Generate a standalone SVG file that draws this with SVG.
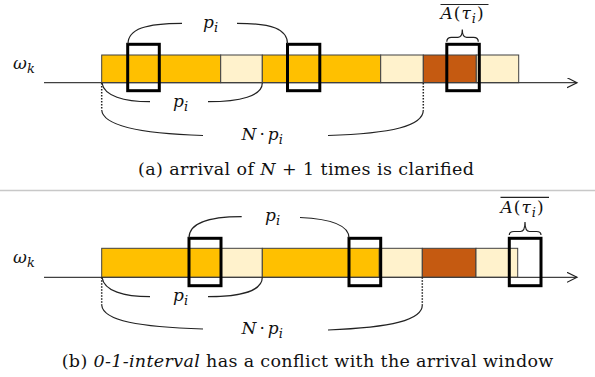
<svg xmlns="http://www.w3.org/2000/svg" width="595" height="377" viewBox="0 0 595 377">
<defs>
<style>
.seg{stroke:#404040;stroke-width:1}
.o{fill:#FFC000}.l{fill:#FFF2CC}.b{fill:#C55A11}
.box{fill:none;stroke:#000;stroke-width:3}
.arc{fill:none;stroke:#222;stroke-width:1.2}
.dot{fill:none;stroke:#222;stroke-width:1.5;stroke-dasharray:1.5 1.5}
.axis{stroke:#404040;stroke-width:1.2;fill:none}
.m{font-family:'DejaVu Serif','Liberation Serif',serif;font-style:italic;font-size:17px;fill:#111}
.u{font-style:normal}
.cap{font-family:'DejaVu Serif','Liberation Serif',serif;font-size:17.5px;fill:#111}
</style>
<marker id="arr" markerWidth="12" markerHeight="12" refX="10" refY="5" orient="auto" markerUnits="userSpaceOnUse"><path d="M0,0 L10,5 L0,10" fill="none" stroke="#222" stroke-width="1.2"/></marker>
</defs>
<rect width="595" height="377" fill="#fff"/>

<g id="panel-a">
<g id="bar-a">
<rect class="seg o" x="101.7" y="55" width="119" height="27.7"/>
<rect class="seg l" x="220.7" y="55" width="41.6" height="27.7"/>
<rect class="seg o" x="262.3" y="55" width="118.4" height="27.7"/>
<rect class="seg l" x="380.7" y="55" width="42.6" height="27.7"/>
<rect class="seg b" x="423.3" y="55" width="53" height="27.7"/>
<rect class="seg l" x="476.3" y="55" width="42.4" height="27.7"/>
</g>
<line id="axis-a" class="axis" x1="44" y1="82.7" x2="577" y2="82.7" marker-end="url(#arr)"/>
<text id="omega-a" class="m" x="13" y="69" font-size="18">ω<tspan font-size="13" dy="4">k</tspan></text>
<g id="boxes-a">
<rect class="box" x="127.7" y="44.3" width="31.6" height="46.4"/>
<rect class="box" x="287.5" y="44.3" width="32.3" height="46.4"/>
<rect class="box" x="446.8" y="44.3" width="32.5" height="46.4"/>
</g>
<g id="conn-a">
<path class="arc" d="M128,44 C128,29 146,23.3 182,23.3"/>
<path class="arc" d="M237,23.3 C272,23.3 287.5,29 287.5,44"/>
<path class="arc" d="M102,83 C104,96 124,101.7 150,101.7"/>
<path class="arc" d="M208,101.7 C240,101.7 262.3,96 262.3,83"/>
<path class="dot" d="M101.7,83 L101.7,110"/>
<path class="arc" d="M101.7,110 C103,126 140,133.5 203,135.5"/>
<path class="arc" d="M328,135.5 C392,133.5 423.3,126 423.3,110"/>
<path class="dot" d="M423.3,83 L423.3,110"/>
<path class="arc" d="M446.8,41.7 Q446.8,37.3 451.5,37.3 L458,37.3 Q462.3,37.3 462.3,29.5 Q462.3,37.3 466.6,37.3 L473.5,37.3 Q478.3,37.3 478.3,41.7"/>
</g>
<text class="m" x="203" y="28" font-size="18">p<tspan font-size="13" dy="4">i</tspan></text>
<text class="m" x="173" y="107" font-size="18">p<tspan font-size="13" dy="4">i</tspan></text>
<text class="m" x="241.5" y="140" font-size="18">N<tspan class="u" dx="3">·</tspan><tspan dx="3">p</tspan><tspan font-size="13" dy="4">i</tspan></text>
<line class="arc" x1="440.5" y1="4.5" x2="488.5" y2="4.5"/>
<text class="m" x="440.5" y="19" font-size="18" letter-spacing="1">A<tspan class="u">(</tspan>τ<tspan font-size="13" dy="4">i</tspan><tspan class="u" dy="-4">)</tspan></text>
<text class="cap" x="138" y="175" textLength="336" lengthAdjust="spacing">(a) arrival of <tspan font-style="italic">N</tspan> + 1 times is clarified</text>
</g>

<line id="separator" x1="0" y1="190.5" x2="595" y2="190.5" stroke="#c8c8c8" stroke-width="1.5"/>

<g id="panel-b">
<g id="bar-b">
<rect class="seg o" x="101.7" y="248.3" width="119" height="29"/>
<rect class="seg l" x="220.7" y="248.3" width="41.6" height="29"/>
<rect class="seg o" x="262.3" y="248.3" width="117" height="29"/>
<rect class="seg l" x="379.3" y="248.3" width="43" height="29"/>
<rect class="seg b" x="422.3" y="248.3" width="53.7" height="29"/>
<rect class="seg l" x="476" y="248.3" width="41.7" height="29"/>
</g>
<line id="axis-b" class="axis" x1="44" y1="277.3" x2="577" y2="277.3" marker-end="url(#arr)"/>
<text id="omega-b" class="m" x="13" y="263" font-size="18">ω<tspan font-size="13" dy="4">k</tspan></text>
<g id="boxes-b">
<rect class="box" x="189" y="238.3" width="32" height="47.4"/>
<rect class="box" x="349" y="238.3" width="31.7" height="47.4"/>
<rect class="box" x="509.3" y="238.3" width="31.7" height="47.4"/>
</g>
<g id="conn-b">
<path class="arc" d="M189,238 C189,224 205,216.7 241.7,216.7"/>
<path class="arc" d="M300,217.5 C333,219 349,226 349,238"/>
<path class="arc" d="M102,277.3 C104,291 124,296.7 150,296.7"/>
<path class="arc" d="M208,296.7 C240,296.7 262.3,291 262.3,277.3"/>
<path class="dot" d="M101.7,277.3 L101.7,305"/>
<path class="arc" d="M101.7,305 C103,321 140,327 203,329"/>
<path class="arc" d="M328,330 C392,327.5 422.3,320 422.3,305"/>
<path class="dot" d="M422.3,277.3 L422.3,305"/>
<path class="arc" d="M509.3,235 Q509.3,231.5 514,231.5 L520.5,231.5 Q525,231.5 525,222 Q525,231.5 529.5,231.5 L536.5,231.5 Q541,231.5 541,235"/>
</g>
<text class="m" x="265" y="221" font-size="18">p<tspan font-size="13" dy="4">i</tspan></text>
<text class="m" x="173" y="301" font-size="18">p<tspan font-size="13" dy="4">i</tspan></text>
<text class="m" x="241.5" y="334" font-size="18">N<tspan class="u" dx="3">·</tspan><tspan dx="3">p</tspan><tspan font-size="13" dy="4">i</tspan></text>
<line class="arc" x1="500.5" y1="197.3" x2="549" y2="197.3"/>
<text class="m" x="500.5" y="213" font-size="18" letter-spacing="1">A<tspan class="u">(</tspan>τ<tspan font-size="13" dy="4">i</tspan><tspan class="u" dy="-4">)</tspan></text>
<text class="cap" x="61.7" y="366.5" textLength="491.6" lengthAdjust="spacing">(b) <tspan font-style="italic">0-1-interval</tspan> has a conflict with the arrival window</text>
</g>
</svg>
